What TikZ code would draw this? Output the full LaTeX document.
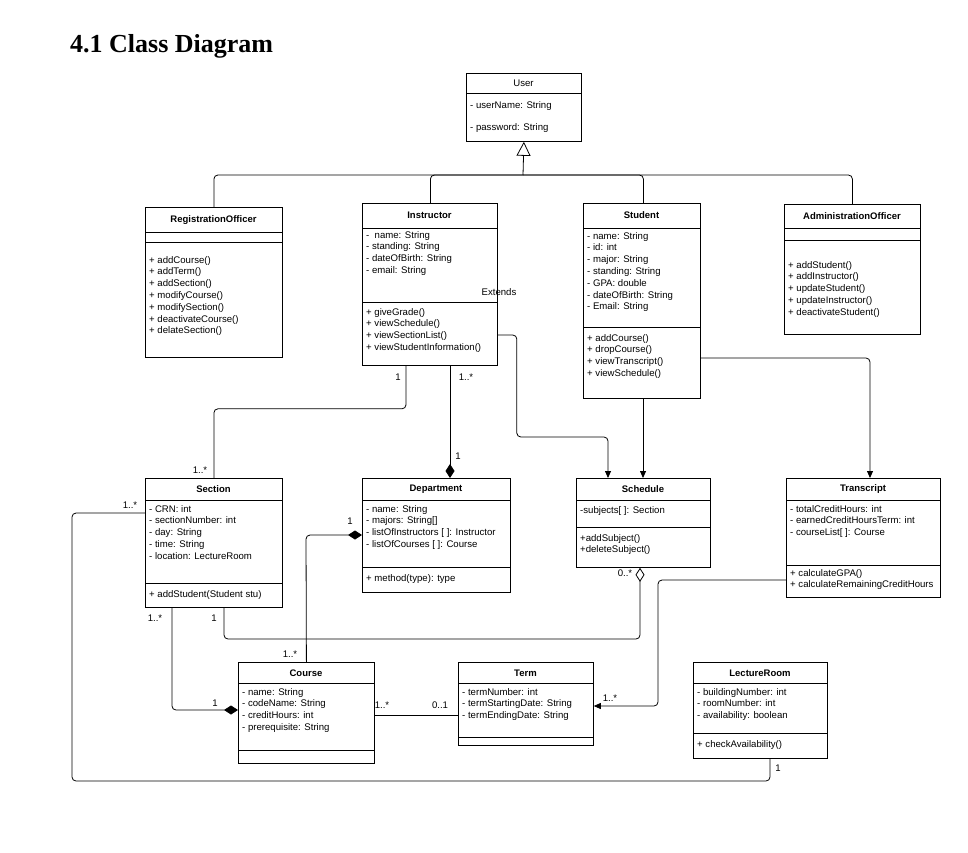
\documentclass[tikz,border=0pt]{standalone}
\usepackage{fontspec}
\setmainfont{Liberation Sans}
\newfontfamily\headfont{Liberation Serif}
\usetikzlibrary{arrows.meta,calc}
\newcommand\umlcls[6]{% name,x,y,w,h,title bottom offset
  \node[draw,line width=0.8pt,minimum width=#4pt,minimum height=#5pt,anchor=north west,inner sep=0pt] (#1) at (#2,#3) {};
  \draw[line width=0.8pt] ($(#1.north west)+(0,#6)$) -- ($(#1.north east)+(0,#6)$);}
\newcommand\hdiv[2]{\draw[line width=0.8pt] ($(#1.north west)+(0,#2)$) -- ($(#1.north east)+(0,#2)$);}
\begin{document}
\begin{tikzpicture}[x=1pt,y=-1pt,
  ttl/.style={font=\fontsize{9.5}{11}\selectfont\bfseries,anchor=center},
  txt/.style={font=\fontsize{9.6}{11.8}\selectfont,align=left,anchor=north west,inner sep=0pt},
  lbl/.style={font=\fontsize{9.6}{11}\selectfont,inner sep=0pt},
  con/.style={line width=0.8pt,rounded corners=4pt},
  arr/.style={con,-{Triangle[length=7pt,width=6pt]}},
  comp/.style={con,{Diamond[length=14pt,width=9pt]}-},
  agg/.style={con,{Diamond[open,length=14pt,width=9pt,fill=white]}-}]
\useasboundingbox (0,0) rectangle (968,852);
\node[font=\headfont\fontsize{26}{30}\selectfont\bfseries,anchor=west,inner sep=0pt] (hd) at (70,46) {4.1 Class Diagram};
% User
\umlcls{user}{466}{73}{115}{68}{20}
\node[font=\fontsize{9.6}{11}\selectfont] (usert) at (523.5,83) {User};
\node[txt] (usera) at (470,101) {- userName: String};
\node[txt] (userb) at (470,123) {- password: String};
% Registration
\umlcls{reg}{145}{207}{137}{150}{25}
\hdiv{reg}{35}
\node[ttl] (regt) at (213.5,220) {RegistrationOfficer};
\node[txt] (regm) at (149,256) {+ addCourse()\\+ addTerm()\\+ addSection()\\+ modifyCourse()\\+ modifySection()\\+ deactivateCourse()\\+ delateSection()};
% Instructor
\umlcls{inst}{362}{203}{135}{162}{25}
\hdiv{inst}{99}
\node[ttl] (instt) at (429.5,215.5) {Instructor};
\node[txt] (insta) at (366,231) {-\ \ name: String\\- standing: String\\- dateOfBirth: String\\- email: String};
\node[txt] (instm) at (366,308) {+ giveGrade()\\+ viewSchedule()\\+ viewSectionList()\\+ viewStudentInformation()};
\node[lbl] (ext) at (499,292) {Extends};
% Student
\umlcls{stu}{583}{203}{117}{195}{25}
\hdiv{stu}{124}
\node[ttl] (stut) at (641.5,215.5) {Student};
\node[txt] (stua) at (587,232) {- name: String\\- id: int\\- major: String\\- standing: String\\- GPA: double\\- dateOfBirth: String\\- Email: String};
\node[txt] (stum) at (587,334) {+ addCourse()\\+ dropCourse()\\+ viewTranscript()\\+ viewSchedule()};
% Admin
\umlcls{adm}{784}{204}{136}{130}{24}
\hdiv{adm}{36}
\node[ttl] (admt) at (852,216) {AdministrationOfficer};
\node[txt] (admm) at (788,261) {+ addStudent()\\+ addInstructor()\\+ updateStudent()\\+ updateInstructor()\\+ deactivateStudent()};
% Section
\umlcls{sec}{145}{478}{137}{129}{22}
\hdiv{sec}{105}
\node[ttl] (sect) at (213.5,489) {Section};
\node[txt] (seca) at (149,505) {- CRN: int\\- sectionNumber: int\\- day: String\\- time: String\\- location: LectureRoom};
\node[txt] (secm) at (149,590) {+ addStudent(Student stu)};
% Department
\umlcls{dep}{362}{478}{148}{114}{22}
\hdiv{dep}{89}
\node[ttl] (dept) at (436,489) {Department};
\node[txt] (depa) at (366,505) {- name: String\\- majors: String[]\\- listOfInstructors [ ]: Instructor\\- listOfCourses [ ]: Course};
\node[txt] (depm) at (366,574) {+ method(type): type};
% Schedule
\umlcls{sch}{576}{478}{134}{89}{22}
\hdiv{sch}{49}
\node[ttl] (scht) at (643,489) {Schedule};
\node[txt] (scha) at (580,506) {-subjects[ ]: Section};
\node[txt] (schm) at (580,534) {+addSubject()\\+deleteSubject()};
% Transcript
\umlcls{tra}{786}{478}{154}{119}{22}
\hdiv{tra}{87}
\node[ttl] (trat) at (863,489) {Transcript};
\node[txt] (traa) at (790,505) {- totalCreditHours: int\\- earnedCreditHoursTerm: int\\- courseList[ ]: Course};
\node[txt] (tram) at (790,569) {+ calculateGPA()\\+ calculateRemainingCreditHours};
% Course
\umlcls{crs}{238}{662}{136}{101}{21}
\hdiv{crs}{88}
\node[ttl] (crst) at (306,673) {Course};
\node[txt] (crsa) at (242,688) {- name: String\\- codeName: String\\- creditHours: int\\- prerequisite: String};
% Term
\umlcls{term}{458}{662}{135}{83}{21}
\hdiv{term}{75}
\node[ttl] (termt) at (525.5,673) {Term};
\node[txt] (terma) at (462,688) {- termNumber: int\\- termStartingDate: String\\- termEndingDate: String};
% LectureRoom
\umlcls{lec}{693}{662}{134}{96}{21}
\hdiv{lec}{71}
\node[ttl] (lect) at (760,673) {LectureRoom};
\node[txt] (leca) at (697,688) {- buildingNumber: int\\- roomNumber: int\\- availability: boolean};
\node[txt] (lecm) at (697,740) {+ checkAvailability()};
% inheritance
\coordinate (hub) at (523,175);
\draw[line width=0.8pt,-{Triangle[open,length=14pt,width=14pt]}] (hub) -- (user.south);
\draw[con] (reg.north) |- (hub);
\draw[con] ($(inst.north)+(0.5,0)$) |- (hub);
\draw[con] ($(stu.north)+(1.5,0)$) |- (hub);
\draw[con] (adm.north) |- (hub);
% associations
\draw[con] ($(inst.south west)+(44,0)$) -- ++(0,43) -| (sec.north);
\node[lbl] (l1) at (398,377) {1};
\node[lbl] (l2) at (200,470) {1..*};
\draw[comp] ($(dep.north west)+(88,0)$) -- ($(inst.south west)+(88,0)$);
\node[lbl] (l3) at (466,377) {1..*};
\node[lbl] (l4) at (458,456) {1};
\coordinate (ia) at ($(inst.north east)+(0,132)$);
\draw[arr] (ia) -- ++(19,0) -- ++(0,102) -| ($(sch.north west)+(32,0)$);
\draw[arr] ($(stu.south west)+(60,0)$) -- ($(sch.north west)+(67,0)$);
\draw[arr] ($(stu.north east)+(0,155)$) -| ($(tra.north west)+(84,0)$);
\draw[con] ($(sec.north west)+(0,35)$) -- (72,513) -- (72,781) -- (770,781) -- ($(lec.south west)+(77,0)$);
\node[lbl] (l5) at (130,505) {1..*};
\node[lbl] (l6) at (778,768) {1};
\draw[comp] ($(crs.north west)+(0,48)$) -- (172,710) -- ($(sec.south west)+(27,0)$);
\node[lbl] (l7) at (155,618) {1..*};
\node[lbl] (l8) at (215,703) {1};
\draw[agg] ($(sch.south west)+(64,0)$) -- (640,639) -- (224,639) -- ($(sec.south west)+(79,0)$);
\node[lbl] (l9) at (214,618) {1};
\node[lbl] (l10) at (625,573) {0..*};
\draw[comp] ($(dep.north west)+(0,57)$) -- (306,535) -- (crs.north);
\node[lbl] (l11) at (350,521) {1};
\node[lbl] (l12) at (290,654) {1..*};
\draw[con] ($(crs.north east)+(0,53)$) -- ($(term.north west)+(0,53)$);
\node[lbl] (l13) at (382,705) {1..*};
\node[lbl] (l14) at (440,705) {0..1};
\draw[arr] ($(tra.north west)+(0,102)$) -- (658,580) -- (658,706) -- ($(term.north east)+(0,44)$);
\node[lbl] (l15) at (610,698) {1..*};
\end{tikzpicture}
\end{document}
